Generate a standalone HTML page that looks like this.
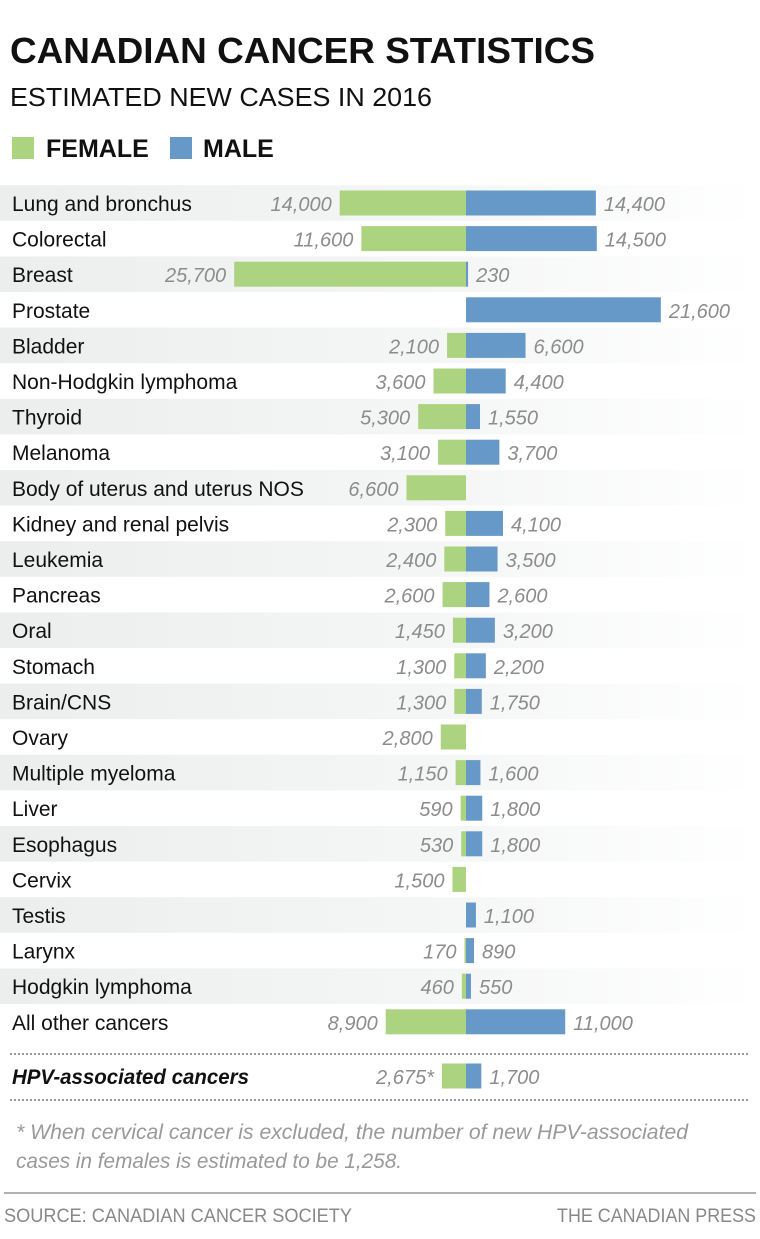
<!DOCTYPE html>
<html><head><meta charset="utf-8"><style>
body{margin:0;background:#fff;font-family:"Liberation Sans",sans-serif;}
#wrap{position:relative;width:760px;height:1239px;overflow:hidden;}
</style></head><body>
<div id="wrap">
<svg id="chart" width="760" height="1239" font-family="Liberation Sans, sans-serif">
<text x="10" y="63" font-size="36" font-weight="900" fill="#111" textLength="585" lengthAdjust="spacingAndGlyphs">CANADIAN CANCER STATISTICS</text>
<text x="10" y="106" font-size="26" fill="#111" textLength="422" lengthAdjust="spacingAndGlyphs">ESTIMATED NEW CASES IN 2016</text>
<rect x="12" y="137" width="22" height="22" fill="#acd37f"/>
<text x="46" y="157" font-size="25" font-weight="bold" fill="#111">FEMALE</text>
<rect x="170" y="137" width="22" height="22" fill="#6699c8"/>
<text x="203" y="157" font-size="25" font-weight="bold" fill="#111">MALE</text>
<g id="rows"></g>
<line x1="10" y1="1054" x2="750" y2="1054" stroke="#999" stroke-width="2" stroke-dasharray="2,2"/>
<line x1="10" y1="1100" x2="750" y2="1100" stroke="#999" stroke-width="2" stroke-dasharray="2,2"/>
<text x="12" y="1084" font-size="21" font-weight="bold" font-style="italic" fill="#111" textLength="237" lengthAdjust="spacingAndGlyphs">HPV-associated cancers</text>
<text x="16" y="1139" font-size="21" font-style="italic" fill="#999" textLength="672" lengthAdjust="spacingAndGlyphs">*  When cervical cancer is excluded, the number of new HPV-associated</text>
<text x="16" y="1168" font-size="21" font-style="italic" fill="#999" textLength="386" lengthAdjust="spacingAndGlyphs">cases in females is estimated to be 1,258.</text>
<line x1="4" y1="1193" x2="756" y2="1193" stroke="#999" stroke-width="1.5"/>
<text x="4" y="1222" font-size="19" fill="#888" textLength="348" lengthAdjust="spacingAndGlyphs">SOURCE: CANADIAN CANCER SOCIETY</text>
<text x="557" y="1222" font-size="19" fill="#888" textLength="199" lengthAdjust="spacingAndGlyphs">THE CANADIAN PRESS</text>
</svg>
</div>
<script>
const categories=["Lung and bronchus","Colorectal","Breast","Prostate","Bladder","Non-Hodgkin lymphoma","Thyroid","Melanoma","Body of uterus and uterus NOS","Kidney and renal pelvis","Leukemia","Pancreas","Oral","Stomach","Brain/CNS","Ovary","Multiple myeloma","Liver","Esophagus","Cervix","Testis","Larynx","Hodgkin lymphoma","All other cancers"];
const female=[14000,11600,25700,0,2100,3600,5300,3100,6600,2300,2400,2600,1450,1300,1300,2800,1150,590,530,1500,0,170,460,8900];
const male=[14400,14500,230,21600,6600,4400,1550,3700,0,4100,3500,2600,3200,2200,1750,0,1600,1800,1800,0,1100,890,550,11000];
const hpvFemale=2675, hpvMale=1700;
const ns="http://www.w3.org/2000/svg";
const cx=466, k=0.00902, y0=203, step=35.6, bh=25;
const xs=v=>v*k;
const g=document.getElementById('rows');
function mk(t,a){const e=document.createElementNS(ns,t);for(const n in a)e.setAttribute(n,a[n]);return e;}
const fmt=v=>v.toLocaleString('en-US');
const defs=mk('defs',{});defs.innerHTML='<linearGradient id="sg" x1="0" x2="1"><stop offset="0" stop-color="#eceeee"/><stop offset="0.6" stop-color="#f5f6f6"/><stop offset="1" stop-color="#ffffff"/></linearGradient>';
g.appendChild(defs);
function row(label,f,m,y,i,hpv){
  if(i!==null && i%2===0){const s=mk('rect',{x:0,y:y-step/2,width:760,height:step,fill:'url(#sg)'});
  
  g.appendChild(s);}
  if(label){const t=mk('text',{x:12,y:y+8,'font-size':21,fill:'#111'});t.textContent=label;
  
  g.appendChild(t);}
  if(f>0){const w=xs(f);const r=mk('rect',{x:cx-w,y:y-bh/2,width:w,height:bh,fill:'#acd37f'});
  
  g.appendChild(r);
  const t=mk('text',{x:cx-w-8,y:y+8,'font-size':20,'font-style':'italic',fill:'#8c8c8c','text-anchor':'end'});t.textContent=fmt(f)+(hpv?'*':'');
  
  g.appendChild(t);}
  if(m>0){const w=xs(m);const r=mk('rect',{x:cx,y:y-bh/2,width:w,height:bh,fill:'#6699c8'});
  
  g.appendChild(r);
  const t=mk('text',{x:cx+w+8,y:y+8,'font-size':20,'font-style':'italic',fill:'#8c8c8c'});t.textContent=fmt(m);
  
  g.appendChild(t);}
}
categories.forEach((c,i)=>row(c,female[i],male[i],y0+i*step,i,false));
row(null,hpvFemale,hpvMale,1076,null,true);
</script>
</body></html>
